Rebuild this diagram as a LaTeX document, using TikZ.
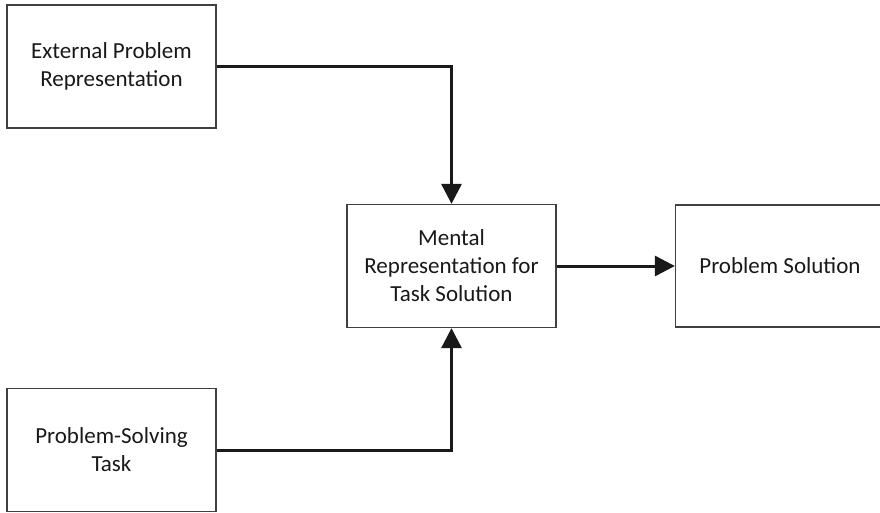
\documentclass[tikz,border=0pt]{standalone}
\usepackage{fontspec}
\setmainfont{Carlito}
\usetikzlibrary{arrows.meta}
\begin{document}
\begin{tikzpicture}[x=1pt,y=-1pt,
  block/.style={draw=black!75, line width=1.3pt, fill=white, minimum width=209pt,
    minimum height=123pt, align=center, text=black!90, font=\fontsize{23}{28}\selectfont,
    inner sep=0pt},
  flow/.style={draw=black!90, line width=3pt,
    -{Triangle[length=20pt,width=20pt]}}]
  \useasboundingbox (0,0) rectangle (880,512);
  \clip (0,0) rectangle (880,512);
  \node[block] (ext) at (111.5,66.5) {External Problem\\Representation};
  \node[block] (task) at (111.5,450) {Problem-Solving\\Task};
  \node[block] (mental) at (451.5,266) {Mental\\Representation for\\Task Solution};
  \node[block, minimum height=122pt] (sol) at (780,266) {Problem Solution};
  \draw[flow] (ext.east) -| (mental.north);
  \draw[flow] (task.east) -| (mental.south);
  \draw[flow] (mental.east) -- (sol.west);
\end{tikzpicture}
\end{document}
